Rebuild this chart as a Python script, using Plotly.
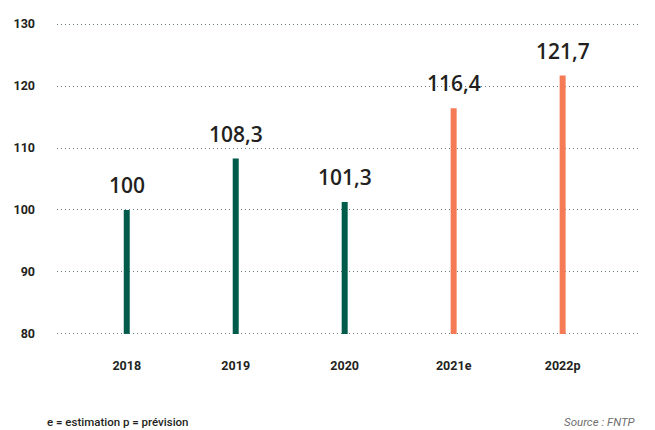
import plotly.graph_objects as go

# --- dati -------------------------------------------------------------------
years = ["2018", "2019", "2020", "2021e", "2022p"]
values = [100, 108.3, 101.3, 116.4, 121.7]
value_labels = ["100", "108,3", "101,3", "116,4", "121,7"]
y_ticks = [80, 90, 100, 110, 120, 130]

GREEN = "#005b4a"
ORANGE = "#f47b56"
colors = [GREEN, GREEN, GREEN, ORANGE, ORANGE]
base = 80

fig = go.Figure()
fig.add_trace(go.Bar(
    x=list(range(len(years))),
    y=[v - base for v in values],
    base=base,
    width=0.055,
    marker=dict(color=colors, line=dict(width=0)),
    hoverinfo="skip",
))

# etichette valore sopra le barre
for i, (v, lab) in enumerate(zip(values, value_labels)):
    fig.add_annotation(
        x=i, y=v, text=lab, showarrow=False,
        yanchor="bottom", yshift=9,
        font=dict(family="Open Sans", size=21, color="#231f20", weight=600),
    )

fig.add_annotation(
    xref="paper", yref="paper", x=-0.021, y=-0.269,
    text="e = estimation p = prévision", showarrow=False,
    xanchor="left", yanchor="middle",
    font=dict(family="Roboto", size=11.5, color="#231f20", weight=500),
)
fig.add_annotation(
    xref="paper", yref="paper", x=0.997, y=-0.269,
    text="<i>Source : FNTP</i>", showarrow=False,
    xanchor="right", yanchor="middle",
    font=dict(family="Roboto", size=11.5, color="#6e6e6e"),
)

fig.update_layout(
    width=655, height=430,
    margin=dict(l=57, r=15, t=21, b=93),
    plot_bgcolor="white", paper_bgcolor="white",
    showlegend=False,
    xaxis=dict(
        range=[-0.64, 4.71],
        tickvals=list(range(len(years))), ticktext=years,
        showgrid=False, zeroline=False, showline=False,
        ticks="", ticklabelstandoff=19,
        tickfont=dict(family="Roboto", size=12.5, color="#231f20", weight="bold"),
    ),
    yaxis=dict(
        range=[79.5, 130.5],
        tickvals=y_ticks,
        showgrid=True, gridcolor="#687c81", griddash="1px,3px", gridwidth=1,
        zeroline=False, showline=False,
        ticks="", ticklabelstandoff=21,
        tickfont=dict(family="Roboto", size=12.5, color="#231f20", weight="bold"),
    ),
)

# la pagina ha un margine di 8px sul body: lo azzero
fig.write_html(
    "out.html",
    config={"displayModeBar": False},
    post_script="document.body.style.margin='0';",
)
